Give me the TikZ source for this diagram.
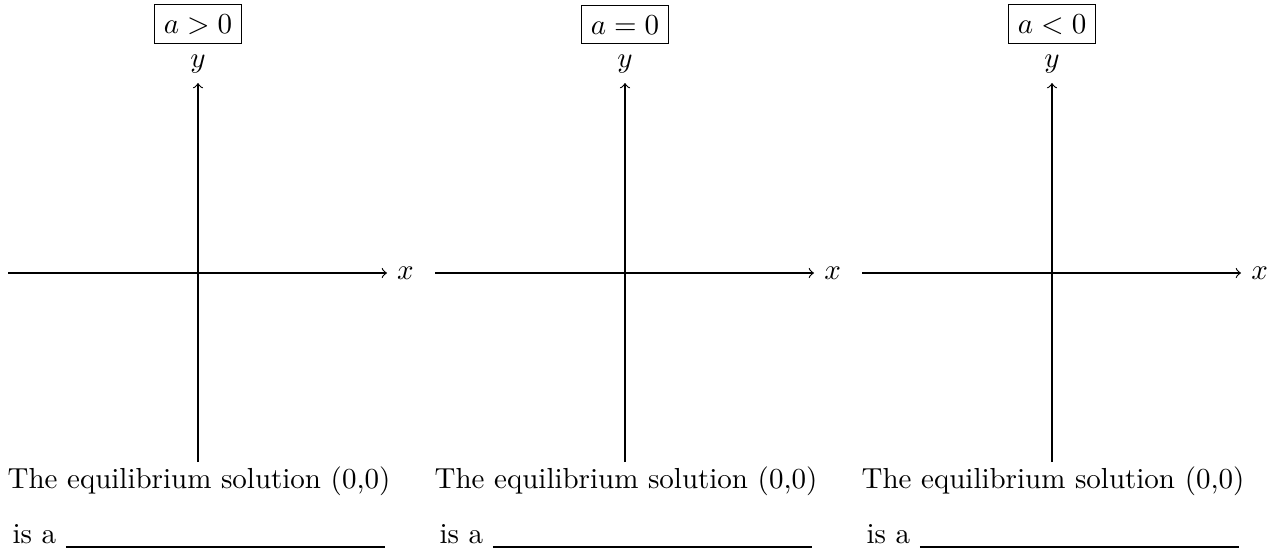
\documentclass[tikz,border=0pt]{standalone}
\begin{document}
\begin{tikzpicture}[x=0.345pt,y=-0.345pt,
  axis/.style={->},
  lbl/.style={inner sep=0pt, anchor=base west},
  casebox/.style={draw, anchor=south}]
\useasboundingbox (0,0) rectangle (1278,549);
\foreach \i/\cx/\t in {1/198/{a>0}, 2/625/{a=0}, 3/1052/{a<0}} {
  \coordinate (xl\i) at (\cx-190,273);
  \coordinate (xr\i) at (\cx+189,273);
  \coordinate (yb\i) at (\cx,462);
  \coordinate (yt\i) at (\cx,83);
  \draw[axis] (xl\i) -- (xr\i);
  \draw[axis] (yb\i) -- (yt\i);
  \node[right] (xn\i) at (xr\i) {$x$};
  \node[above] (yn\i) at (yt\i) {$y$};
  \node[casebox] (case\i) at (yn\i.north) {$\t$};
  \node[lbl] (t\i) at (\cx-191,488) {The equilibrium solution (0,0)};
  \node[lbl] (b\i) at (\cx-186,543) {is a \underline{\hspace{110pt}}};
}
\end{tikzpicture}
\end{document}
